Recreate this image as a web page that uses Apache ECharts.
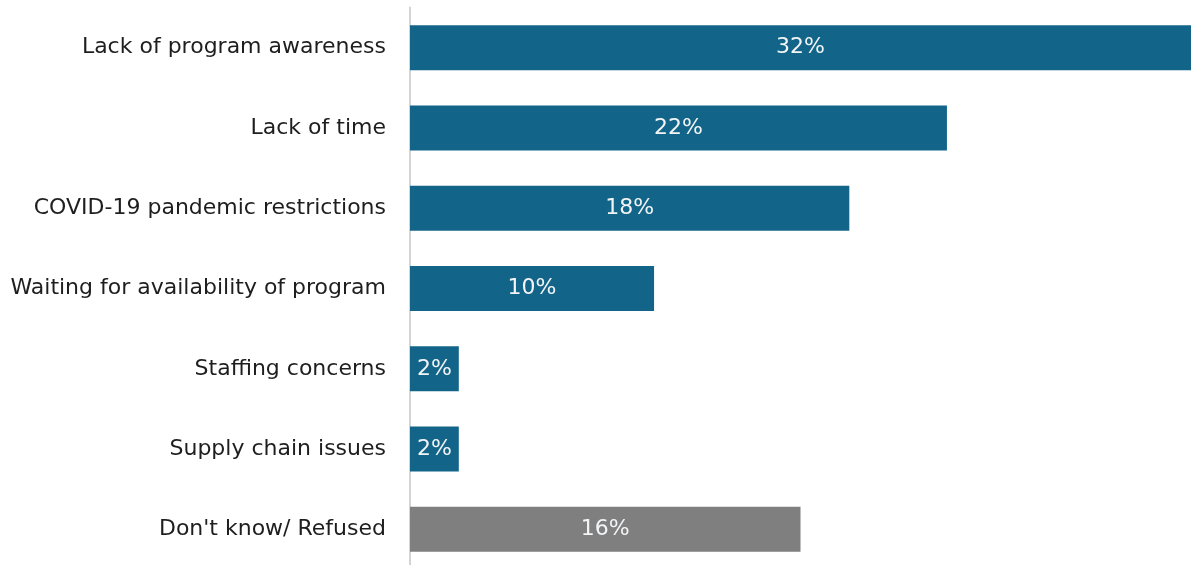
<!DOCTYPE html>
<html>
<head>
<meta charset="utf-8">
<script src="https://cdn.jsdelivr.net/npm/echarts@6/dist/echarts.min.js"></script>
<style>
  html, body { margin: 0; padding: 0; background: #ffffff; overflow: hidden; }
  #chart { width: 1191px; height: 600px; }
</style>
</head>
<body>
<div id="chart"></div>
<script>
// Reasons given, top to bottom
const categories = [
  'Lack of program awareness',
  'Lack of time',
  'COVID-19 pandemic restrictions',
  'Waiting for availability of program',
  'Staffing concerns',
  'Supply chain issues',
  "Don't know/ Refused"
];
// Share of respondents (%)
const values = [32, 22, 18, 10, 2, 2, 16];
// Last row (non-response) is drawn in grey
const isNonResponse = [false, false, false, false, false, false, true];

const BLUE = '#126589';
const GREY = '#7f7f7f';
const FONT = '"DejaVu Sans", Verdana, sans-serif';

const chart = echarts.init(document.getElementById('chart'), null, { renderer: 'canvas' });

chart.setOption({
  animation: false,
  grid: { left: 410, right: 0, top: 7.5, height: 562, containLabel: false },
  xAxis: {
    type: 'value',
    min: 0,
    max: 32,
    show: false
  },
  yAxis: {
    type: 'category',
    inverse: true,
    data: categories,
    axisLine: { show: true, lineStyle: { color: '#d4d4d4', width: 2 } },
    axisTick: { show: false },
    splitLine: { show: false },
    axisLabel: {
      margin: 24,
      color: '#1e1e1e',
      fontSize: 22,
      fontFamily: FONT
    }
  },
  series: [{
    type: 'bar',
    barWidth: 45,
    data: values.map((v, i) => ({
      value: v,
      itemStyle: { color: isNonResponse[i] ? GREY : BLUE }
    })),
    label: {
      show: true,
      position: 'inside',
      color: '#f2f4f6',
      fontSize: 22,
      fontFamily: FONT,
      formatter: p => p.value + '%'
    }
  }]
});
</script>
</body>
</html>
